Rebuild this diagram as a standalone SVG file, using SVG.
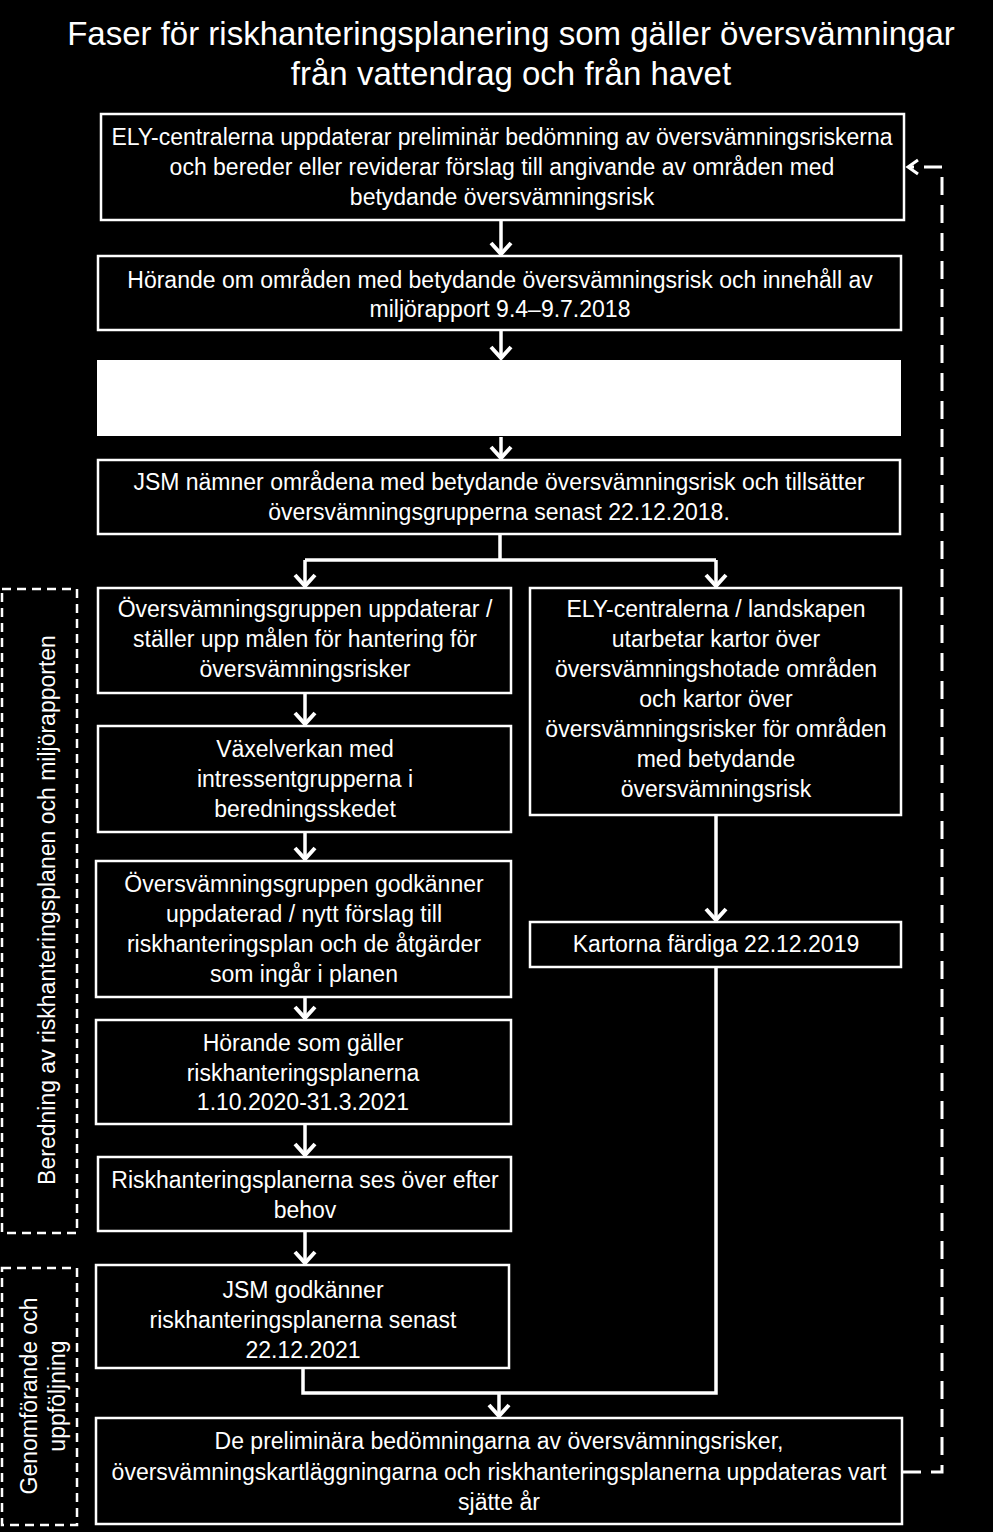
<svg xmlns="http://www.w3.org/2000/svg" width="993" height="1532" viewBox="0 0 993 1532">
<defs>
<style>
.box{fill:#000;stroke:#fff;stroke-width:2.5}
.t{fill:#fff;font-family:"Liberation Sans",Arial,sans-serif;font-size:23px;text-anchor:middle;dominant-baseline:central}
.title{fill:#fff;font-family:"Liberation Sans",Arial,sans-serif;font-size:33px;text-anchor:middle;dominant-baseline:central}
.c{fill:none;stroke:#fff;stroke-width:3.5}
.d{fill:none;stroke:#fff;stroke-width:2.5;stroke-dasharray:9 6}
.dl{fill:none;stroke:#fff;stroke-width:3;stroke-dasharray:18 10}
</style>
<marker id="ah" markerUnits="userSpaceOnUse" markerWidth="30" markerHeight="30" refX="15" refY="15" orient="auto" viewBox="0 0 30 30">
<path d="M4,5 L15,15 L4,25" fill="none" stroke="#fff" stroke-width="4"/>
</marker>
</defs>
<rect width="993" height="1532" fill="#000"/>
<g id="title">
<text class="title" x="511" y="33">Faser för riskhanteringsplanering som gäller översvämningar</text>
<text class="title" x="511" y="73">från vattendrag och från havet</text>
</g>
<g id="connectors">
<path class="c" d="M501,221 V254" marker-end="url(#ah)"/>
<path class="c" d="M501,331 V358" marker-end="url(#ah)"/>
<path class="c" d="M501,437 V458" marker-end="url(#ah)"/>
<path class="c" d="M500,535 V560 M305,560 H716"/>
<path class="c" d="M305,560 V586" marker-end="url(#ah)"/>
<path class="c" d="M716,560 V586" marker-end="url(#ah)"/>
<path class="c" d="M305,694 V724" marker-end="url(#ah)"/>
<path class="c" d="M305,833 V859" marker-end="url(#ah)"/>
<path class="c" d="M305,998 V1018" marker-end="url(#ah)"/>
<path class="c" d="M305,1125 V1155" marker-end="url(#ah)"/>
<path class="c" d="M305,1232 V1263" marker-end="url(#ah)"/>
<path class="c" d="M716,816 V920" marker-end="url(#ah)"/>
<path class="c" d="M303,1369 V1393 H716 V968"/>
<path class="c" d="M499,1393 V1416" marker-end="url(#ah)"/>
<path class="dl" d="M903,1472 H942 V167 H908"/>
<path d="M918,160 L908,167 L918,174" fill="none" stroke="#fff" stroke-width="3"/>
</g>
<g id="n1">
<rect class="box" x="101" y="114" width="803" height="106"/>
<text class="t" x="502" y="137">ELY-centralerna uppdaterar preliminär bedömning av översvämningsriskerna</text>
<text class="t" x="502" y="167">och bereder eller reviderar förslag till angivande av områden med</text>
<text class="t" x="502" y="197">betydande översvämningsrisk</text>
</g>
<g id="n2">
<rect class="box" x="98" y="256" width="803" height="74"/>
<text class="t" x="500" y="280">Hörande om områden med betydande översvämningsrisk och innehåll av</text>
<text class="t" x="500" y="309">miljörapport 9.4–9.7.2018</text>
</g>
<g id="n3">
<rect x="97" y="360" width="804" height="76" fill="#fff"/>
</g>
<g id="n4">
<rect class="box" x="98" y="460" width="802" height="74"/>
<text class="t" x="499" y="482">JSM nämner områdena med betydande översvämningsrisk och tillsätter</text>
<text class="t" x="499" y="512">översvämningsgrupperna senast 22.12.2018.</text>
</g>
<g id="n5">
<rect class="box" x="98" y="588" width="413" height="105"/>
<text class="t" x="305" y="609">Översvämningsgruppen uppdaterar /</text>
<text class="t" x="305" y="639">ställer upp målen för hantering för</text>
<text class="t" x="305" y="669">översvämningsrisker</text>
</g>
<g id="n6">
<rect class="box" x="530" y="588" width="371" height="227"/>
<text class="t" x="716" y="609">ELY-centralerna / landskapen</text>
<text class="t" x="716" y="639">utarbetar kartor över</text>
<text class="t" x="716" y="669">översvämningshotade områden</text>
<text class="t" x="716" y="699">och kartor över</text>
<text class="t" x="716" y="729">översvämningsrisker för områden</text>
<text class="t" x="716" y="759">med betydande</text>
<text class="t" x="716" y="789">översvämningsrisk</text>
</g>
<g id="n7">
<rect class="box" x="98" y="726" width="413" height="106"/>
<text class="t" x="305" y="749">Växelverkan med</text>
<text class="t" x="305" y="779">intressentgrupperna i</text>
<text class="t" x="305" y="809">beredningsskedet</text>
</g>
<g id="n8">
<rect class="box" x="96" y="861" width="415" height="136"/>
<text class="t" x="304" y="884">Översvämningsgruppen godkänner</text>
<text class="t" x="304" y="914">uppdaterad / nytt förslag till</text>
<text class="t" x="304" y="944">riskhanteringsplan och de åtgärder</text>
<text class="t" x="304" y="974">som ingår i planen</text>
</g>
<g id="n9">
<rect class="box" x="96" y="1020" width="415" height="104"/>
<text class="t" x="303" y="1043">Hörande som gäller</text>
<text class="t" x="303" y="1073">riskhanteringsplanerna</text>
<text class="t" x="303" y="1102">1.10.2020-31.3.2021</text>
</g>
<g id="n10">
<rect class="box" x="98" y="1157" width="413" height="74"/>
<text class="t" x="305" y="1180">Riskhanteringsplanerna ses över efter</text>
<text class="t" x="305" y="1210">behov</text>
</g>
<g id="n11">
<rect class="box" x="96" y="1265" width="413" height="103"/>
<text class="t" x="303" y="1290">JSM godkänner</text>
<text class="t" x="303" y="1320">riskhanteringsplanerna senast</text>
<text class="t" x="303" y="1350">22.12.2021</text>
</g>
<g id="n12">
<rect class="box" x="530" y="922" width="371" height="45"/>
<text class="t" x="716" y="944">Kartorna färdiga 22.12.2019</text>
</g>
<g id="n13">
<rect class="box" x="96" y="1418" width="806" height="106"/>
<text class="t" x="499" y="1441">De preliminära bedömningarna av översvämningsrisker,</text>
<text class="t" x="499" y="1472">översvämningskartläggningarna och riskhanteringsplanerna uppdateras vart</text>
<text class="t" x="499" y="1502">sjätte år</text>
</g>
<g id="phase1">
<rect class="d" x="2" y="589" width="75" height="644"/>
<text class="t" transform="translate(47,910) rotate(-90)">Beredning av riskhanteringsplanen och miljörapporten</text>
</g>
<g id="phase2">
<rect class="d" x="2" y="1268" width="75" height="257"/>
<text class="t" transform="translate(29,1396) rotate(-90)">Genomförande och</text>
<text class="t" transform="translate(57,1396) rotate(-90)">uppföljning</text>
</g>
</svg>
